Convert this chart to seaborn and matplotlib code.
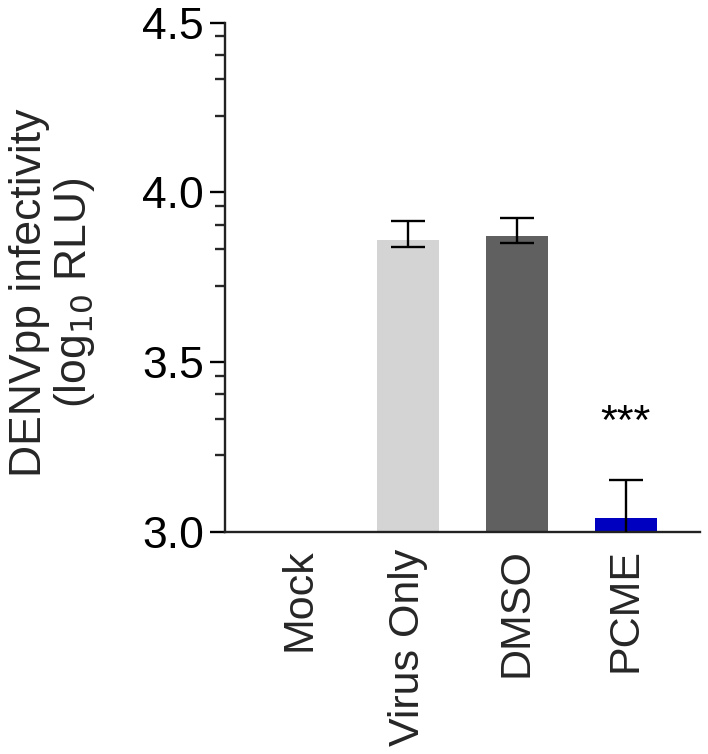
import numpy as np
import pandas as pd
import matplotlib
matplotlib.use("Agg")
import matplotlib.pyplot as plt
import seaborn as sns

categories = ["Mock", "Virus Only", "DMSO", "PCME"]
means = [0.0, 3.860, 3.872, 3.041]
err_low = [0.0, 0.022, 0.021, 0.111]
err_high = [0.0, 0.056, 0.053, 0.111]
colors = ["#ffffff", "#d4d4d4", "#606060", "#0000c0"]
y_ticks = [3.0, 3.5, 4.0, 4.5]
y_tick_labels = ["3.0", "3.5", "4.0", "4.5"]
signif = {"PCME": ("***", 3.32)}

sns.set_theme(style="white")
plt.rcParams["font.family"] = ["Liberation Sans", "DejaVu Sans"]

df = pd.DataFrame({"group": categories, "value": means})

fig = plt.figure(figsize=(7.08, 7.54), dpi=100)
ax = fig.add_axes([0.3178, 0.2948, 0.9887 - 0.3178, 0.970 - 0.2948])

sns.barplot(data=df, x="group", y="value", hue="group", palette=colors,
            order=categories, hue_order=categories, legend=False,
            errorbar=None, width=0.57, saturation=1, ax=ax, linewidth=0)

xs = np.arange(len(categories))
show = [i for i in range(len(categories)) if err_high[i] > 0]
ax.errorbar(xs[show], np.array(means)[show],
            yerr=[np.array(err_low)[show], np.array(err_high)[show]],
            fmt="none", ecolor="black", elinewidth=1.7, capsize=12.5,
            capthick=1.7, zorder=5)

for name, (txt, yv) in signif.items():
    ax.text(categories.index(name), yv, txt, ha="center", va="center",
            fontsize=31, color="black")

ax.set_ylim(3.0, 4.5)
ax.set_xlim(-0.68, 3.68)
ax.set_yticks(y_ticks)
ax.set_yticklabels(y_tick_labels, fontsize=32)
fracs = [0.45, 0.665, 0.81, 0.92]
minor = [b + f * 0.5 for b in y_ticks[:-1] for f in fracs]
ax.set_yticks(minor, minor=True)
ax.tick_params(axis="y", which="major", length=11, width=1.7, direction="out",
               left=True, pad=4, colors="black")
ax.tick_params(axis="y", which="minor", length=7, width=1.7, direction="out",
               left=True)
ax.set_xticks(xs)
ax.set_xticklabels(categories, rotation=90, fontsize=31, va="top", ha="center")
ax.tick_params(axis="x", length=0, pad=12)

for s in ["top", "right"]:
    ax.spines[s].set_visible(False)
for s in ["left", "bottom"]:
    ax.spines[s].set_linewidth(1.7)
    ax.spines[s].set_color("#222222")

ax.set_xlabel("")
ax.set_ylabel("DENVpp infectivity\n(log$_{10}$ RLU)", fontsize=32,
              linespacing=1.05)
ax.yaxis.set_label_coords(-0.27, 0.47)

fig.savefig("out.png", dpi=100)
